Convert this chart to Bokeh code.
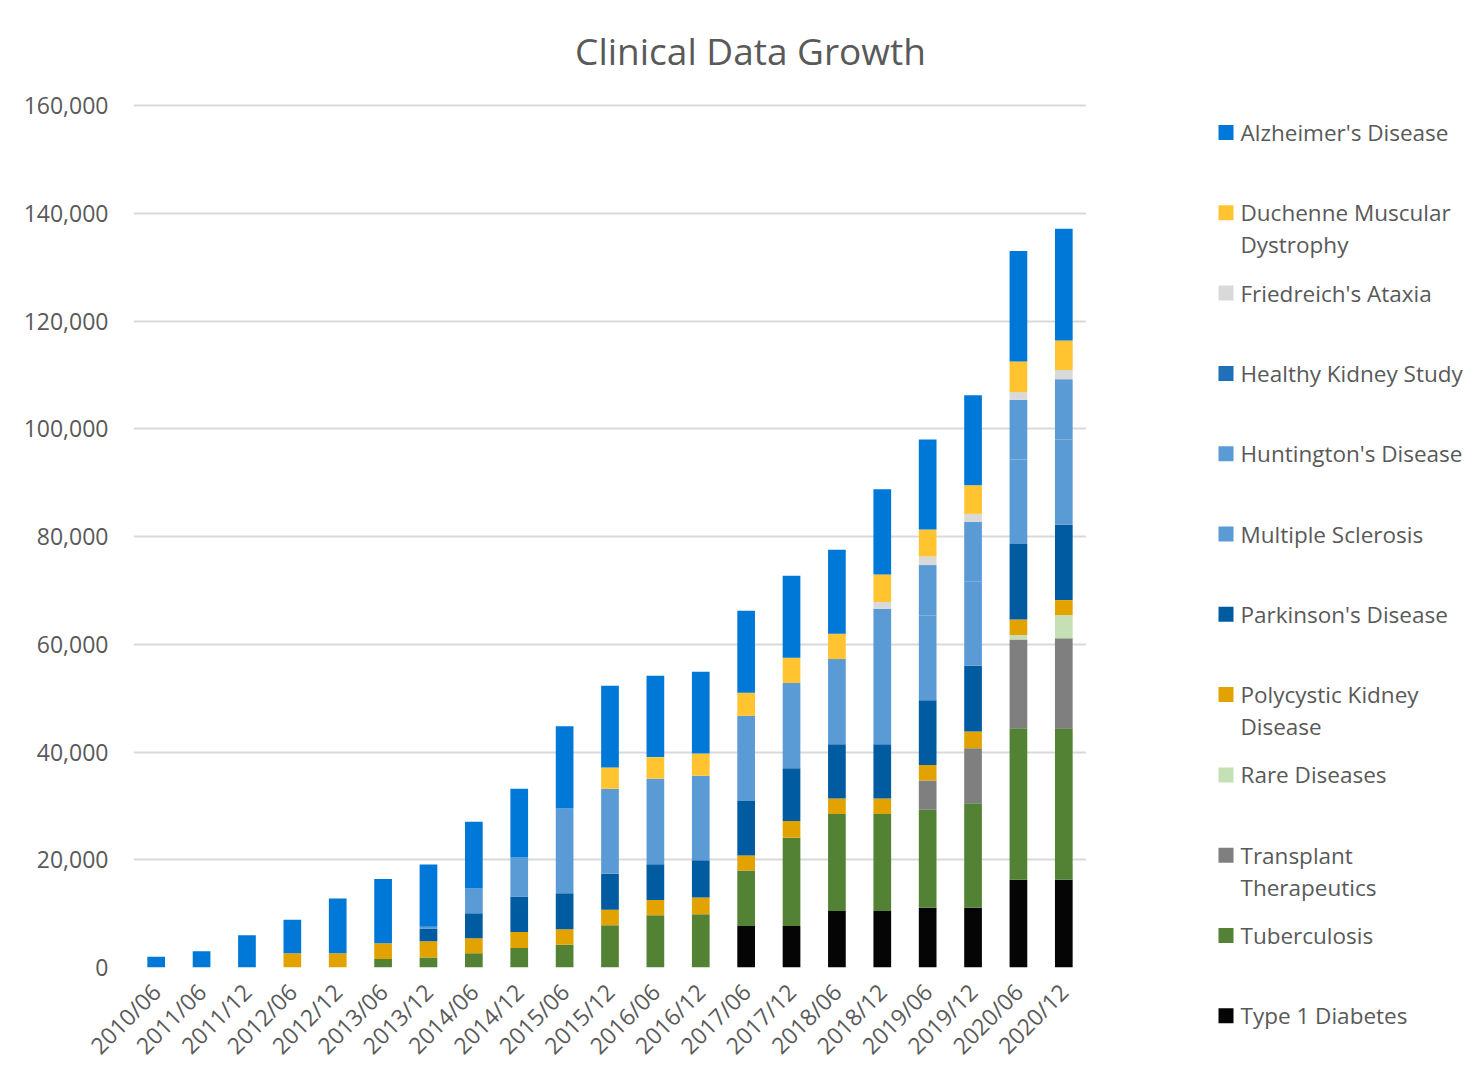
import math
from bokeh.plotting import figure
from bokeh.layouts import row
from bokeh.models import (FactorRange, Range1d, FixedTicker, NumeralTickFormatter,
                          Label, ColumnDataSource)
from bokeh.core.properties import value
from bokeh.embed import file_html
from bokeh.resources import INLINE

categories = ["2010/06", "2011/06", "2011/12", "2012/06", "2012/12", "2013/06", "2013/12",
              "2014/06", "2014/12", "2015/06", "2015/12", "2016/06", "2016/12", "2017/06",
              "2017/12", "2018/06", "2018/12", "2019/06", "2019/12", "2020/06", "2020/12"]

type1_diabetes = [0, 0, 0, 0, 0, 0, 0, 0, 0, 0, 0, 0, 0,
                  7700, 7700, 10500, 10500, 11100, 11100, 16300, 16300]
tuberculosis = [0, 0, 0, 0, 0, 1600, 1850, 2650, 3600, 4200, 7850, 9700, 9900,
                10300, 16400, 18000, 18000, 18200, 19400, 28100, 28100]
transplant = [0, 0, 0, 0, 0, 0, 0, 0, 0, 0, 0, 0, 0, 0, 0, 0, 0,
              5400, 10200, 16500, 16700]
rare_diseases = [0, 0, 0, 0, 0, 0, 0, 0, 0, 0, 0, 0, 0, 0, 0, 0, 0, 0, 0, 800, 4300]
polycystic_kidney = [0, 0, 0, 2650, 2650, 2900, 3000, 2800, 3000, 2900, 2850, 2850, 3100,
                     2800, 3100, 2850, 2850, 2900, 3100, 2900, 2800]
parkinsons = [0, 0, 0, 0, 0, 0, 2400, 4600, 6600, 6700, 6700, 6600, 6900,
              10100, 9800, 10100, 10100, 12000, 12200, 14000, 14000]
multiple_sclerosis = [0, 0, 0, 0, 0, 0, 300, 4600, 7200, 15700, 15800, 15900, 15700,
                      15800, 15800, 15800, 15800, 15700, 15700, 15700, 15800]
huntingtons = [0, 0, 0, 0, 0, 0, 0, 0, 0, 0, 0, 0, 0, 0, 0, 0,
               9300, 9400, 11000, 11100, 11200]
healthy_kidney = [0, 0, 0, 0, 0, 0, 0, 0, 0, 0, 0, 0, 0, 0, 0, 0, 0, 0, 0, 0, 0]
friedreichs = [0, 0, 0, 0, 0, 0, 0, 0, 0, 0, 0, 0, 0, 0, 0, 0,
               1300, 1600, 1500, 1400, 1700]
duchenne = [0, 0, 0, 0, 0, 0, 0, 0, 0, 0, 3900, 4000, 4100, 4300, 4700, 4700,
            5100, 5000, 5300, 5700, 5500]
alzheimers = [2000, 3000, 6000, 6200, 10150, 11950, 11550, 12400, 12800, 15300, 15200,
              15100, 15200, 15200, 15200, 15600, 15800, 16700, 16700, 20500, 20700]

y_ticks = [0, 20000, 40000, 60000, 80000, 100000, 120000, 140000, 160000]

# stacking order bottom -> top
series_keys = ["t1d", "tb", "tx", "rare", "pkd", "pd", "ms", "hd", "hk", "fa", "dmd", "ad"]
series_values = [type1_diabetes, tuberculosis, transplant, rare_diseases, polycystic_kidney,
                 parkinsons, multiple_sclerosis, huntingtons, healthy_kidney, friedreichs,
                 duchenne, alzheimers]
series_colors = ["#050505", "#548235", "#7f7f7f", "#c5e0b4", "#e2a300", "#005ba1",
                 "#5b9bd5", "#5b9bd5", "#1f70b8", "#d9d9d9", "#ffc42f", "#0078d7"]
# legend (top -> bottom): key, first line, second line
legend_keys = ["ad", "dmd", "fa", "hk", "hd", "ms", "pd", "pkd", "rare", "tx", "tb", "t1d"]
legend_line1 = ["Alzheimer's Disease", "Duchenne Muscular", "Friedreich's Ataxia",
                "Healthy Kidney Study", "Huntington's Disease", "Multiple Sclerosis",
                "Parkinson's Disease", "Polycystic Kidney", "Rare Diseases", "Transplant",
                "Tuberculosis", "Type 1 Diabetes"]
legend_line2 = ["", "Dystrophy", "", "", "", "", "", "Disease", "", "Therapeutics", "", ""]

TEXT = "#595959"
FONT = "Open Sans"

# ---- layout (pixels) ----
LEFT = 133
FRAME_W = 953
FRAME_H = 967          # frame reaches the top of the page (title drawn inside)
PLOT_TOP = 105         # where 160,000 sits
BOTTOM = 113
LEG_W = 387
TOTAL_H = FRAME_H + BOTTOM

data = {"cat": categories}
for k, v in zip(series_keys, series_values):
    data[k] = v
source = ColumnDataSource(data)

y_end = y_ticks[-1] * FRAME_H / (FRAME_H - PLOT_TOP)

p = figure(x_range=FactorRange(factors=categories, range_padding=0),
           y_range=Range1d(0, y_end),
           frame_width=FRAME_W, frame_height=FRAME_H,
           min_border_left=LEFT, min_border_right=0, min_border_top=0, min_border_bottom=BOTTOM,
           output_backend="svg", toolbar_location=None,
           background_fill_color="white", border_fill_color="white")
p.outline_line_color = None

p.vbar_stack(series_keys, x="cat", width=0.39, source=source,
             fill_color=series_colors, line_color=None)

p.yaxis.ticker = FixedTicker(ticks=y_ticks)
p.yaxis.formatter = NumeralTickFormatter(format="0,0")
for ax in (p.xaxis, p.yaxis):
    ax.axis_line_color = None
    ax.major_tick_line_color = None
    ax.minor_tick_line_color = None
    ax.major_tick_in = 0
    ax.major_tick_out = 0
    ax.major_label_text_font = FONT
    ax.major_label_text_font_size = "23px"
    ax.major_label_text_color = TEXT
p.yaxis.major_label_standoff = 25
p.xaxis.major_label_standoff = 20
p.xaxis.major_label_orientation = math.pi / 4

p.xgrid.grid_line_color = None
p.ygrid.grid_line_color = "#d9d9d9"
p.ygrid.grid_line_width = 2

p.add_layout(Label(x=750 - LEFT, y=FRAME_H - 50, x_units="screen", y_units="screen",
                   text="Clinical Data Growth", text_align="center", text_baseline="middle",
                   text_font=FONT, text_font_size="37px", text_color=TEXT))

# ---- legend panel ----
color_of = dict(zip(series_keys, series_colors))
leg = figure(width=LEG_W, height=TOTAL_H, frame_width=LEG_W, frame_height=TOTAL_H,
             x_range=Range1d(0, LEG_W), y_range=Range1d(TOTAL_H, 0),
             min_border=0, output_backend="svg", toolbar_location=None,
             x_axis_location=None, y_axis_location=None,
             background_fill_color="white", border_fill_color="white")
leg.outline_line_color = None
leg.grid.visible = False

ITEM0 = 132
STEP = 80.3
row_y = [ITEM0 + STEP * i for i in range(len(legend_keys))]
leg.scatter(x=[139.5] * len(legend_keys), y=row_y, marker="square", size=15,
            fill_color=[color_of[k] for k in legend_keys], line_color=None)
leg.text(x=[154] * len(legend_keys), y=row_y, text=legend_line1,
         text_font=value(FONT), text_font_size=value("22.5px"), text_color=TEXT,
         text_align="left", text_baseline="middle")
sec_y = [yy + 32 for yy, t in zip(row_y, legend_line2) if t]
sec_t = [t for t in legend_line2 if t]
leg.text(x=[154] * len(sec_t), y=sec_y, text=sec_t,
         text_font=value(FONT), text_font_size=value("22.5px"), text_color=TEXT,
         text_align="left", text_baseline="middle")

layout = row(p, leg)
open("out.html", "w").write(file_html(layout, INLINE))
